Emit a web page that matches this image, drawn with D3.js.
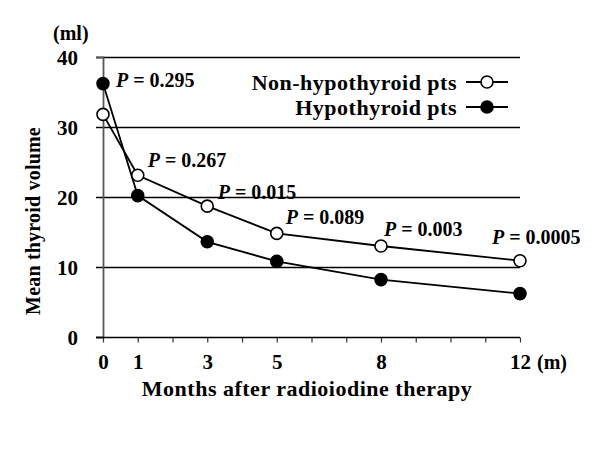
<!DOCTYPE html>
<html><head><meta charset="utf-8">
<script src="https://cdn.jsdelivr.net/npm/d3@7"></script>
<style>body{margin:0;background:#fff}svg{display:block}text{font-family:"Liberation Serif","Times New Roman",serif;font-weight:bold;fill:#000}</style>
</head><body><svg id="c" width="600" height="450"></svg>
<script>
const months = [0, 1, 3, 5, 8, 12];
const nonHypo = [31.8, 23.1, 18.7, 14.8, 13.0, 10.9];
const hypo = [36.2, 20.2, 13.6, 10.8, 8.2, 6.2];
const pLabels = ["0.295", "0.267", "0.015", "0.089", "0.003", "0.0005"];
const xTickLabels = [0, 1, 3, 5, 8, 12];
const yTicks = [0, 10, 20, 30, 40];
const seriesNames = ["Non-hypothyroid pts", "Hypothyroid pts"];

const svg = d3.select("#c");
const x = d3.scaleLinear().domain([0, 12]).range([103, 520]);
const y = d3.scaleLinear().domain([0, 40]).range([337, 57]);
const cy = v => Math.round(y(v)) + 0.5;

// gridlines
svg.append("g").selectAll("line").data(yTicks.filter(d => d > 0)).join("line")
  .attr("x1", 96).attr("x2", x(12)).attr("y1", d => cy(d)).attr("y2", d => cy(d))
  .attr("stroke", "#000").attr("stroke-width", 1.3);

// y axis
const ya = svg.append("g").attr("transform", `translate(${x(0)},0)`)
  .call(d3.axisLeft(y).tickValues(yTicks).tickSize(7).tickPadding(18));
ya.select(".domain").attr("stroke", "#555").attr("stroke-width", 1.8);
ya.selectAll(".tick line").remove();
ya.selectAll("text").style("font-size", "21px").attr("dy", "0.35em");

// x axis
const xa = svg.append("g").attr("transform", `translate(0,${cy(0)})`)
  .call(d3.axisBottom(x).tickValues(d3.range(0, 13)).tickSize(5).tickSizeOuter(0)
    .tickFormat(d => xTickLabels.includes(d) ? d : "").tickPadding(12));
xa.select(".domain").remove();
svg.append("line").attr("x1", 96).attr("x2", x(12)).attr("y1", cy(0)).attr("y2", cy(0))
  .attr("stroke", "#000").attr("stroke-width", 1.5);
xa.selectAll(".tick line").attr("stroke", "#333").attr("stroke-width", 1.2);
xa.selectAll("text").style("font-size", "21px");

svg.append("text").attr("x", x(12) + 17).attr("y", 369).style("font-size", "20px").text("(m)");
svg.append("text").attr("x", 53).attr("y", 40).style("font-size", "20px").text("(ml)");

svg.append("text").attr("x", 307).attr("y", 396).attr("text-anchor", "middle")
  .style("font-size", "22px").style("letter-spacing", "0.5px").text("Months after radioiodine therapy");
svg.append("text").attr("transform", "translate(40,221) rotate(-90)").attr("text-anchor", "middle")
  .style("font-size", "20px").style("letter-spacing", "0.2px").text("Mean thyroid volume");

// lines
const line = d3.line().x((d, i) => x(months[i])).y(d => y(d));
[nonHypo, hypo].forEach(s => {
  svg.append("path").attr("d", line(s)).attr("fill", "none").attr("stroke", "#000").attr("stroke-width", 1.8);
});
[[nonHypo, "#fff"], [hypo, "#000"]].forEach(([s, f]) => {
  svg.append("g").selectAll("circle").data(s).join("circle")
    .attr("cx", (d, i) => x(months[i])).attr("cy", d => y(d)).attr("r", 6)
    .attr("fill", f).attr("stroke", "#000").attr("stroke-width", 1.6);
});

// P labels
const pOff = [[13, 3], [10, -8.5], [10.5, -7], [9, -9.5], [3, -10], [-28, -16.5]];
const pBase = [hypo[0], nonHypo[1], nonHypo[2], nonHypo[3], nonHypo[4], nonHypo[5]];
pLabels.forEach((p, i) => {
  const t = svg.append("text").attr("x", x(months[i]) + pOff[i][0]).attr("y", y(pBase[i]) + pOff[i][1])
    .style("font-size", "20px");
  t.append("tspan").style("font-style", "italic").text("P");
  t.append("tspan").text(" = " + p);
});

// legend
const lg = [[82, "#fff"], [107, "#000"]];
lg.forEach(([ly, f], i) => {
  svg.append("text").attr("x", 457).attr("y", ly).attr("dy", "0.35em").attr("text-anchor", "end")
    .style("font-size", "22px").style("letter-spacing", "0.5px").text(seriesNames[i]);
  svg.append("line").attr("x1", 466).attr("x2", 508).attr("y1", ly).attr("y2", ly)
    .attr("stroke", "#000").attr("stroke-width", 1.8);
  svg.append("circle").attr("cx", 487).attr("cy", ly).attr("r", 6).attr("fill", f)
    .attr("stroke", "#000").attr("stroke-width", 1.6);
});
</script></body></html>
